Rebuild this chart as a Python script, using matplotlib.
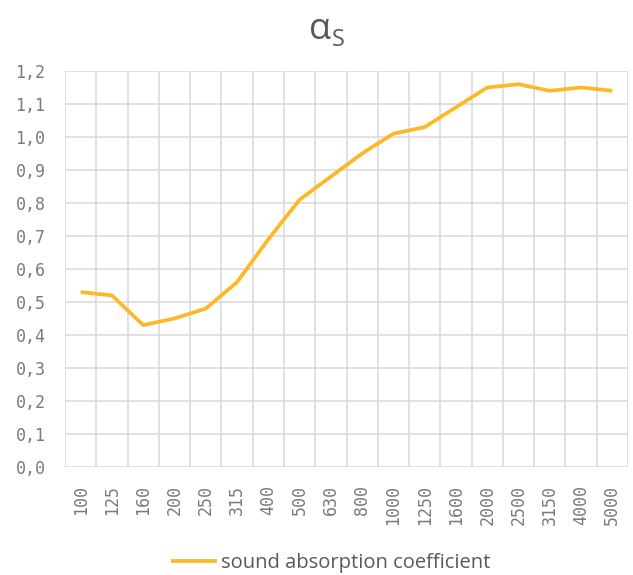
import matplotlib
matplotlib.use("Agg")
import matplotlib.pyplot as plt
import numpy as np

categories = ["100", "125", "160", "200", "250", "315", "400", "500", "630", "800",
              "1000", "1250", "1600", "2000", "2500", "3150", "4000", "5000"]
values = [0.53, 0.52, 0.43, 0.45, 0.48, 0.56, 0.69, 0.81, 0.88, 0.95,
          1.01, 1.03, 1.09, 1.15, 1.16, 1.14, 1.15, 1.14]
y_ticks = [0.0, 0.1, 0.2, 0.3, 0.4, 0.5, 0.6, 0.7, 0.8, 0.9, 1.0, 1.1, 1.2]
series_name = "sound absorption coefficient"

W, H = 633, 575
fig = plt.figure(figsize=(W / 100, H / 100), dpi=100)
ax = fig.add_axes([65 / W, 1 - 467 / H, (628 - 65) / W, (467 - 71) / H])

x = np.arange(len(categories))
line, = ax.plot(x, values, color="#FDB827", lw=2.7, solid_joinstyle="round",
                solid_capstyle="butt", zorder=3)

ax.set_xlim(-0.5, len(categories) - 0.5)
ax.set_ylim(0, 1.2)

grid_c = "#D9D9D9"
for b in np.arange(-0.5, len(categories) + 0.5, 1.0):
    ax.axvline(b, color=grid_c, lw=1.1, zorder=1)
for t in y_ticks:
    ax.axhline(t, color=grid_c, lw=1.1, zorder=1)

for s in ax.spines.values():
    s.set_visible(False)

tick_font = dict(family="DejaVu Sans Mono", size=12, color="#7a7a7a")
ax.set_yticks(y_ticks)
ax.set_yticklabels([f"{t:.1f}".replace(".", ",") for t in y_ticks], **tick_font)
ax.set_xticks(x)
ax.set_xticklabels(categories, rotation=90, **tick_font)
ax.tick_params(axis="both", length=0)
ax.tick_params(axis="y", pad=14)
ax.tick_params(axis="x", pad=13)

# title
fig.text(331 / W, 1 - 30 / H, "α", ha="right", va="center", fontsize=26,
         color="#595959", family="Open Sans")
fig.text(332 / W, 1 - 40 / H, "S", ha="left", va="center", fontsize=17,
         color="#595959", family="Open Sans")

leg = fig.legend([line], [series_name], loc="center", bbox_to_anchor=(331 / W, 1 - 563 / H),
                 frameon=False, handlelength=2.3, handletextpad=0.2,
                 prop=dict(family="Open Sans", size=14.5))
for t in leg.get_texts():
    t.set_color("#595959")

fig.savefig("out.png", dpi=100)
